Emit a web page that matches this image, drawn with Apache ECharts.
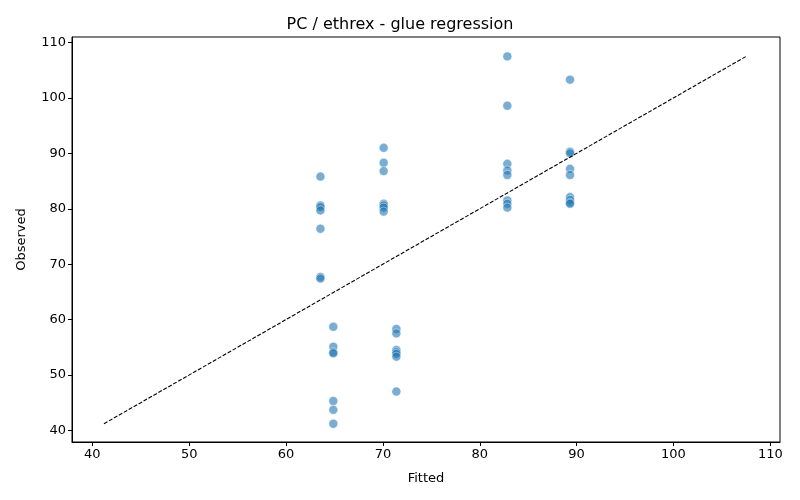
<!DOCTYPE html>
<html>
<head>
<meta charset="utf-8">
<script src="https://cdn.jsdelivr.net/npm/echarts@6/dist/echarts.min.js"></script>
<style>
  html, body { margin: 0; padding: 0; background: #fff; }
  #chart { width: 800px; height: 500px; }
</style>
</head>
<body>
<div id="chart"></div>
<script>
// fitted / observed pairs
var fitted = [
  63.55, 63.55, 63.55, 63.55, 63.55, 63.55, 63.55,
  64.88, 64.88, 64.88, 64.88, 64.88, 64.88, 64.88,
  70.08, 70.08, 70.08, 70.08, 70.08, 70.08, 70.08,
  71.39, 71.39, 71.39, 71.39, 71.39, 71.39, 71.39,
  82.85, 82.85, 82.85, 82.85, 82.85, 82.85, 82.85, 82.85,
  89.32, 89.32, 89.32, 89.32, 89.32, 89.32, 89.32, 89.32, 89.32
];
var observed = [
  85.8, 80.6, 80.3, 79.7, 76.4, 67.7, 67.4,
  58.7, 55.1, 54.1, 53.9, 45.3, 43.7, 41.2,
  91.0, 88.3, 86.8, 80.9, 80.6, 80.2, 79.5,
  58.3, 57.5, 54.5, 54.1, 53.8, 53.3, 47.0,
  107.5, 98.6, 88.1, 86.9, 86.1, 81.5, 80.9, 80.2,
  103.3, 90.3, 90.0, 87.2, 86.1, 82.1, 81.6, 81.1, 80.9
];
var tickValues = [40, 50, 60, 70, 80, 90, 100, 110];

var points = fitted.map(function (f, i) { return [f, observed[i]]; });
var lo = Math.min.apply(null, observed);
var hi = Math.max.apply(null, observed);
var diag = [[lo, lo], [hi, hi]];

var font = 'DejaVu Sans';

function axis(name, gap) {
  return {
    type: 'value',
    min: 37.9,
    max: 111.0,
    name: name,
    nameLocation: 'middle',
    nameGap: gap,
    nameTextStyle: { color: '#000', fontSize: 13, fontFamily: font },
    axisLine: { show: true, onZero: false, lineStyle: { color: '#000', width: 1 } },
    axisTick: { show: true, inside: false, length: 4, customValues: tickValues, lineStyle: { color: '#000' } },
    axisLabel: { color: '#000', fontSize: 13, fontFamily: font, customValues: tickValues, margin: 6 },
    splitLine: { show: false }
  };
}

var myChart = echarts.init(document.getElementById('chart'));

var option = {
  backgroundColor: '#fff',
  animation: false,
  title: {
    text: 'PC / ethrex - glue regression',
    left: 'center',
    top: 12,
    textStyle: { color: '#000', fontSize: 16, fontWeight: 'normal', fontFamily: font }
  },
  grid: {
    left: 72,
    right: 20,
    top: 37,
    bottom: 58,
    show: true,
    borderColor: '#000',
    borderWidth: 1,
    backgroundColor: 'transparent'
  },
  xAxis: axis('Fitted', 30),
  yAxis: axis('Observed', 44),
  series: [
    {
      type: 'scatter',
      data: points,
      symbolSize: 9,
      itemStyle: {
        color: 'rgba(31,119,180,0.75)',
        borderColor: 'rgba(255,255,255,0.8)',
        borderWidth: 0.7
      },
      z: 2
    },
    {
      type: 'line',
      data: diag,
      symbol: 'none',
      lineStyle: { color: '#000', width: 1.1, type: [4, 1.7] },
      z: 3
    }
  ]
};

myChart.setOption(option);
</script>
</body>
</html>
